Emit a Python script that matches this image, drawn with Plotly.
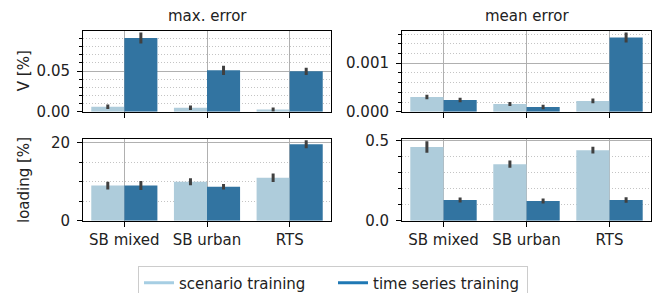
import plotly.graph_objects as go

categories = ["SB mixed", "SB urban", "RTS"]
series_names = ["scenario training", "time series training"]

# max. error, V [%]
vmax_scen = [0.0060, 0.0049, 0.0027]
vmax_scen_err = [0.0028, 0.0028, 0.0025]
vmax_ts = [0.0905, 0.0508, 0.0496]
vmax_ts_err = [0.0067, 0.0057, 0.0045]

# mean error, V [%]
vmean_scen = [0.000304, 0.000159, 0.000221]
vmean_scen_err = [0.000045, 0.000042, 0.000049]
vmean_ts = [0.000242, 0.000097, 0.00153]
vmean_ts_err = [0.000045, 0.000045, 0.000103]

# max. error, loading [%]
lmax_scen = [9.0, 10.0, 11.0]
lmax_scen_err = [1.0, 0.9, 1.1]
lmax_ts = [9.0, 8.7, 19.6]
lmax_ts_err = [1.16, 0.73, 1.0]

# mean error, loading [%]
lmean_scen = [0.46, 0.353, 0.44]
lmean_scen_err = [0.036, 0.023, 0.021]
lmean_ts = [0.129, 0.123, 0.129]
lmean_ts_err = [0.016, 0.015, 0.017]

light_bar = "#aeccdb"
dark_bar = "#3274a1"
light_line = "#a6cee3"
dark_line = "#1f78b4"
err_col = "#404040"
FONT = "DejaVu Sans"
FS = 15

xpos = list(range(len(categories)))

fig = go.Figure()

panels = [
    ("x", "y", vmax_scen, vmax_scen_err, vmax_ts, vmax_ts_err),
    ("x2", "y2", vmean_scen, vmean_scen_err, vmean_ts, vmean_ts_err),
    ("x3", "y3", lmax_scen, lmax_scen_err, lmax_ts, lmax_ts_err),
    ("x4", "y4", lmean_scen, lmean_scen_err, lmean_ts, lmean_ts_err),
]

for xa, ya, s, se, t, te in panels:
    for vals, errs, col, name, grp in [(s, se, light_bar, series_names[0], "a"),
                                       (t, te, dark_bar, series_names[1], "b")]:
        fig.add_trace(go.Bar(
            x=xpos, y=vals, xaxis=xa, yaxis=ya, name=name, showlegend=False,
            marker=dict(color=col, line=dict(width=0)), offsetgroup=grp,
            error_y=dict(type="data", array=errs, visible=True,
                         color=err_col, thickness=3, width=0),
        ))

for name, col in zip(series_names, [light_line, dark_line]):
    fig.add_trace(go.Scatter(x=[None], y=[None], mode="lines", name=name,
                             line=dict(color=col, width=3), xaxis="x", yaxis="y"))

xl = [83/656, 331/656]
xr = [402/656, 651/656]
yt = [1 - 111.7/293, 1 - 30.7/293]
yb = [1 - 220.7/293, 1 - 139.3/293]

common_axis = dict(showline=True, mirror=True, linecolor="black", linewidth=1,
                   ticks="outside", ticklen=5, tickwidth=1, tickcolor="black",
                   tickfont=dict(family=FONT, size=FS, color="#222222"),
                   zeroline=False, gridcolor="#b0b0b0", gridwidth=1, showgrid=True,
                   automargin=False)

def xaxis(domain, anchor, labels):
    d = dict(common_axis)
    d.update(domain=domain, anchor=anchor, range=[-0.5, 2.5],
             tickmode="array", tickvals=xpos,
             ticktext=categories if labels else ["", "", ""])
    return d

def yaxis(domain, anchor, rng, tickvals, ticktext, minor_dtick):
    d = dict(common_axis)
    d.update(domain=domain, anchor=anchor, range=rng, tickmode="array",
             tickvals=tickvals, ticktext=ticktext, ticklabelstandoff=4,
             minor=dict(tickmode="linear", tick0=0, dtick=minor_dtick,
                        ticks="outside", ticklen=3, tickcolor="black",
                        showgrid=True, gridcolor="#c4c4c4", griddash="1px,2px", gridwidth=1))
    return d

fig.update_layout(
    width=656, height=293,
    margin=dict(l=0, r=0, t=0, b=0, autoexpand=False),
    paper_bgcolor="white", plot_bgcolor="white",
    barmode="group", bargap=0.2, bargroupgap=0,
    font=dict(family=FONT, size=FS, color="#222222"),
    xaxis=xaxis(xl, "y", False),
    xaxis2=xaxis(xr, "y2", False),
    xaxis3=xaxis(xl, "y3", True),
    xaxis4=xaxis(xr, "y4", True),
    yaxis=yaxis(yt, "x", [0, 0.0995], [0, 0.05], ["0.00", "0.05"], 0.01),
    yaxis2=yaxis(yt, "x2", [0, 0.00167], [0, 0.001], ["0.000", "0.001"], 0.0002),
    yaxis3=yaxis(yb, "x3", [0, 20.87], [0, 20], ["0", "20"], 5),
    yaxis4=yaxis(yb, "x4", [0, 0.508], [0, 0.5], ["0.0", "0.5"], 0.1),
    showlegend=True,
    legend=dict(orientation="h", x=138/656, y=1 - 265.5/293, xanchor="left", yanchor="top",
                bordercolor="#cccccc", borderwidth=1, bgcolor="white",
                font=dict(family=FONT, size=FS, color="#222222"),
                itemwidth=30, entrywidth=149, entrywidthmode="pixels",
                traceorder="normal"),
    annotations=[
        dict(text="max. error", x=(xl[0] + xl[1]) / 2, y=1 - 16/293, xref="paper", yref="paper",
             showarrow=False, xanchor="center", yanchor="middle", font=dict(size=FS)),
        dict(text="mean error", x=(xr[0] + xr[1]) / 2, y=1 - 16/293, xref="paper", yref="paper",
             showarrow=False, xanchor="center", yanchor="middle", font=dict(size=FS)),
        dict(text="V [%]", x=24/656, y=(yt[0] + yt[1]) / 2, xref="paper", yref="paper",
             showarrow=False, xanchor="center", yanchor="middle", textangle=-90, font=dict(size=FS)),
        dict(text="loading [%]", x=24/656, y=(yb[0] + yb[1]) / 2, xref="paper", yref="paper",
             showarrow=False, xanchor="center", yanchor="middle", textangle=-90, font=dict(size=FS)),
    ],
)

fig.write_html("out.html", config={"displayModeBar": False},
               post_script="document.body.style.margin='0px';document.body.style.overflow='hidden';")
